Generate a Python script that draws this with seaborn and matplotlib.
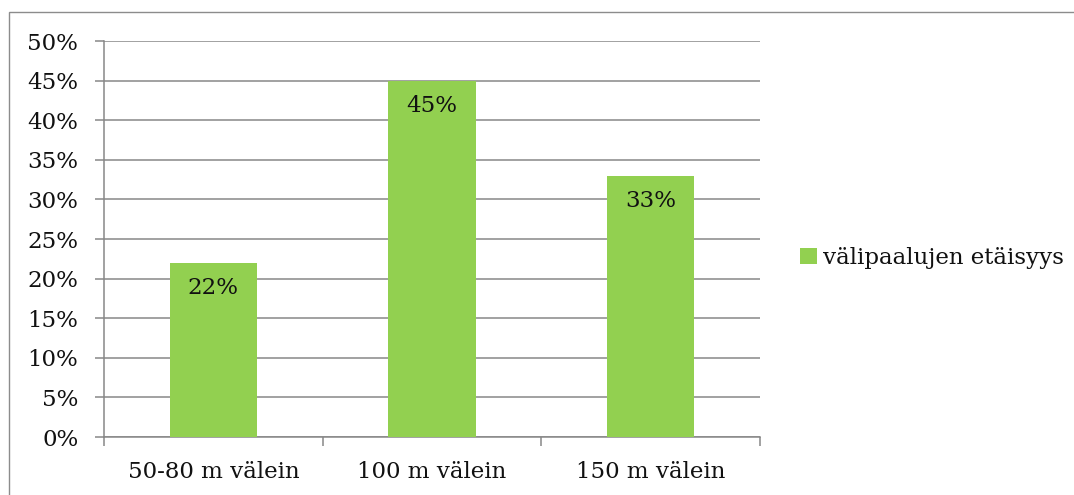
import matplotlib
matplotlib.use("Agg")
import matplotlib.pyplot as plt
import seaborn as sns
import pandas as pd
from matplotlib.patches import Rectangle
from matplotlib.ticker import FixedLocator, FuncFormatter

categories = ["50-80 m välein", "100 m välein", "150 m välein"]
values = [22, 45, 33]
series_name = "välipaalujen etäisyys"
y_ticks = list(range(0, 51, 5))

sns.set_theme(style="white")
plt.rcParams['font.family'] = ['DejaVu Serif']

W, H = 1074, 495
fig = plt.figure(figsize=(W / 100, H / 100), dpi=100)

# outer chart border
fig.patches.append(Rectangle((9 / W, -0.1), 1.2, 1 - 12 / H + 0.1, transform=fig.transFigure,
                             fill=False, edgecolor="#8c8c8c", lw=1.0, zorder=0))

ax = fig.add_axes([104 / W, (H - 437) / H, 656 / W, 396 / H])
df = pd.DataFrame({"cat": categories, "val": values, "series": series_name})
green = "#92D050"
grid_c = "#878787"

sns.barplot(data=df, x="cat", y="val", hue="series", palette=[green], width=0.4,
            ax=ax, zorder=3, saturation=1, legend=True, linewidth=0)

ax.set_xlim(-0.5, 2.5)
ax.set_ylim(0, 50)
ax.set_xlabel("")
ax.set_ylabel("")
ax.yaxis.set_major_locator(FixedLocator(y_ticks))
ax.yaxis.set_major_formatter(FuncFormatter(lambda v, p: f"{int(v)}%"))
ax.grid(axis="y", color=grid_c, lw=1.1, zorder=0)
ax.set_axisbelow(True)

for s in ["top", "right"]:
    ax.spines[s].set_visible(False)
for s in ["left", "bottom"]:
    ax.spines[s].set_color(grid_c)
    ax.spines[s].set_linewidth(1.1)

fs = 16.5
ax.tick_params(axis="y", direction="out", length=6.5, width=1.1, color=grid_c,
               labelsize=fs, pad=12, left=True)
ax.tick_params(axis="x", which="major", length=0, labelsize=fs, pad=17, bottom=True)
ax.xaxis.set_minor_locator(FixedLocator([-0.5, 0.5, 1.5, 2.5]))
ax.tick_params(axis="x", which="minor", direction="out", length=6.5, width=1.1,
               color=grid_c, bottom=True)
for lab in ax.get_xticklabels() + ax.get_yticklabels():
    lab.set_color("#111111")

for i, v in enumerate(values):
    ax.annotate(f"{v}%", (i, v), xytext=(0, -18.5), textcoords="offset points",
                ha="center", va="center", fontsize=fs, color="#111111", zorder=5)

leg = ax.legend(loc="center left", bbox_to_anchor=(789 / W, (H - 258) / H),
                bbox_transform=fig.transFigure, frameon=False, fontsize=fs,
                handlelength=0.7, handleheight=0.7, handletextpad=0.3, borderpad=0)
for t in leg.get_texts():
    t.set_color("#111111")

fig.savefig("out.png", dpi=100)
